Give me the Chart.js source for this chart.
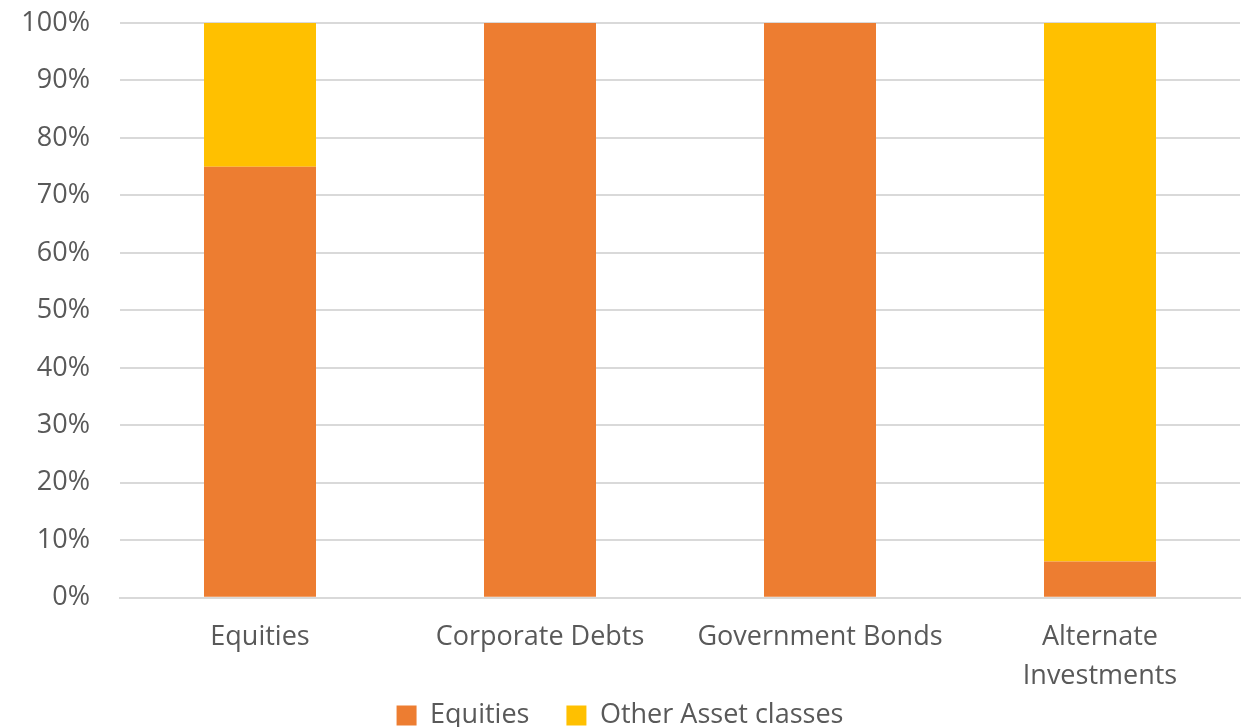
<!DOCTYPE html>
<html lang="en">
<head>
    <meta charset="UTF-8">
    <title>Asset classes</title>
    <script src="https://cdn.jsdelivr.net/npm/chart.js@4.4.0/dist/chart.umd.min.js"></script>
    <style>
        html, body { margin: 0; padding: 0; background: #fff; }
        #wrap { width: 1250px; height: 727px; }
    </style>
</head>
<body>
    <div id="wrap"><canvas id="dvCanvas" width="1250" height="727"></canvas></div>

    <script>
        var categories = ['Equities', 'Corporate Debts', 'Government Bonds', ['Alternate', 'Investments']];
        var equitiesShare = [75, 100, 100, 6.3];
        var otherShare = [25, 0, 0, 93.7];
        var yTicks = [0, 10, 20, 30, 40, 50, 60, 70, 80, 90, 100];

        var textColor = '#595959';
        var fontFamily = "'Open Sans', 'Liberation Sans', sans-serif";

        // legend keeps wide item spacing, but sits closer to the axis labels
        var legendLift = {
            id: 'legendLift',
            afterLayout: function(chart) {
                if (chart.legend) {
                    chart.legend.top -= 43;
                    chart.legend.bottom -= 43;
                }
            }
        };

        var ctx = document.getElementById('dvCanvas').getContext('2d');
        var chart = new Chart(ctx, {
            type: 'bar',
            data: {
                labels: categories,
                datasets: [
                    {
                        label: 'Equities',
                        data: equitiesShare,
                        backgroundColor: '#ED7D31',
                        categoryPercentage: 0.4,
                        barPercentage: 1
                    },
                    {
                        label: 'Other Asset classes',
                        data: otherShare,
                        backgroundColor: '#FFC000',
                        categoryPercentage: 0.4,
                        barPercentage: 1
                    }
                ]
            },
            plugins: [legendLift],
            options: {
                responsive: false,
                animation: false,
                layout: { padding: { top: 23, right: 10, left: 0, bottom: -55 } },
                plugins: {
                    tooltip: { enabled: false },
                    legend: {
                        position: 'bottom',
                        labels: {
                            color: textColor,
                            font: { family: fontFamily, size: 27 },
                            boxWidth: 20,
                            boxHeight: 20,
                            padding: 37
                        }
                    }
                },
                scales: {
                    x: {
                        stacked: true,
                        grid: { display: false },
                        border: { color: '#d9d9d9', width: 2 },
                        ticks: {
                            color: textColor,
                            font: { family: fontFamily, size: 27, lineHeight: 1.45 },
                            padding: 12,
                            maxRotation: 0,
                            autoSkip: false
                        }
                    },
                    y: {
                        stacked: true,
                        min: 0,
                        max: 100,
                        afterFit: function(scale) {
                            scale.width = 120;
                            scale.paddingTop = 0;
                            scale.paddingBottom = 0;
                        },
                        afterBuildTicks: function(scale) {
                            scale.ticks = yTicks.map(function(v) { return { value: v }; });
                        },
                        border: { display: false },
                        grid: { color: '#d9d9d9', lineWidth: 2, drawTicks: false },
                        ticks: {
                            color: textColor,
                            font: { family: fontFamily, size: 27 },
                            padding: 30,
                            callback: function(v) { return v + '%'; }
                        }
                    }
                }
            }
        });
    </script>
</body>
</html>
